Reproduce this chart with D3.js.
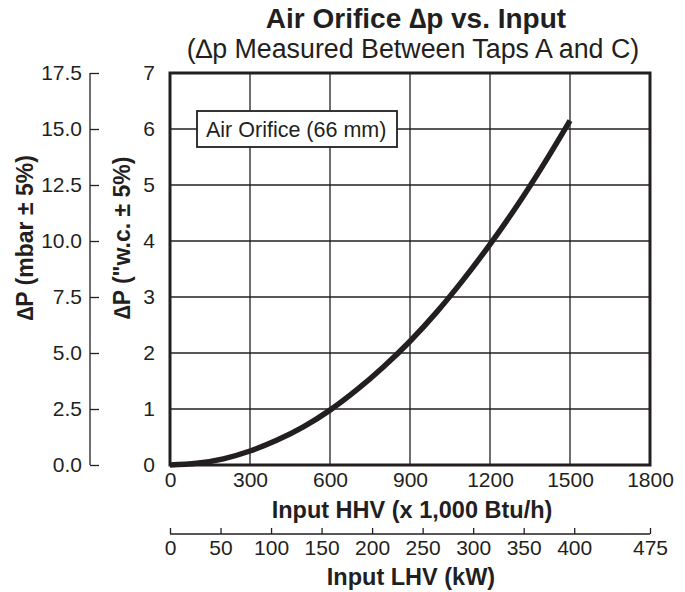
<!DOCTYPE html>
<html>
<head>
<meta charset="utf-8">
<script src="https://cdn.jsdelivr.net/npm/d3@7/dist/d3.min.js"></script>
<style>
  html, body { margin: 0; padding: 0; background: #fff; }
  svg { display: block; font-family: "Liberation Sans", Arial, Helvetica, sans-serif; }
</style>
</head>
<body>
<svg id="chart" width="685" height="592"></svg>
<script>
// ---- data ----
const inputHHV = [0, 100, 200, 300, 400, 500, 600, 700, 800, 900, 1000, 1100, 1200, 1300, 1400, 1500];
const deltaPwc = [0, 0.03, 0.11, 0.25, 0.44, 0.68, 0.98, 1.34, 1.75, 2.21, 2.73, 3.31, 3.94, 4.62, 5.36, 6.15];
const hhvTicks = [0, 300, 600, 900, 1200, 1500, 1800];
const lhvTicks = [0, 50, 100, 150, 200, 250, 300, 350, 400, 475];
const wcTicks = [0, 1, 2, 3, 4, 5, 6, 7];
const mbarTicks = [0, 2.5, 5, 7.5, 10, 12.5, 15, 17.5];
const seriesName = "Air Orifice (66 mm)";
const titleText = "Air Orifice \u2206p vs. Input";
const subtitleText = "(\u2206p Measured Between Taps A and C)";

// ---- layout ----
const svg = d3.select("#chart");
const L = 170, R = 650, T = 73, B = 465;
const ink = "#231f20";
const tickFs = 21;

const x = d3.scaleLinear().domain([0, 1800]).range([L, R]);
const xL = d3.scaleLinear().domain([0, 475]).range([L, R]);
const y = d3.scaleLinear().domain([0, 7]).range([B, T]);
const yM = d3.scaleLinear().domain([0, 17.5]).range([B, T]);

// grid
const grid = svg.append("g");
grid.selectAll("line.v").data(hhvTicks.slice(1, -1)).enter().append("line")
  .attr("x1", d => x(d)).attr("x2", d => x(d)).attr("y1", T).attr("y2", B)
  .attr("stroke", ink).attr("stroke-width", 1.3);
grid.selectAll("line.h").data(wcTicks.slice(1, -1)).enter().append("line")
  .attr("y1", d => y(d)).attr("y2", d => y(d)).attr("x1", L).attr("x2", R)
  .attr("stroke", ink).attr("stroke-width", 1.3);

// frame
svg.append("rect").attr("x", L).attr("y", T).attr("width", R - L).attr("height", B - T)
  .attr("fill", "none").attr("stroke", ink).attr("stroke-width", 3);

// curve
const line = d3.line().x((d, i) => x(inputHHV[i])).y(d => y(d)).curve(d3.curveMonotoneX);
svg.append("path").datum(deltaPwc).attr("d", line)
  .attr("fill", "none").attr("stroke", ink).attr("stroke-width", 5.5);

// legend box
const lg = svg.append("g");
lg.append("rect").attr("x", 197).attr("y", y(6) - 18).attr("width", 200).attr("height", 36)
  .attr("fill", "#fff").attr("stroke", ink).attr("stroke-width", 1.8);
lg.append("text").attr("x", 206).attr("y", y(6) + 7.5).attr("text-anchor", "start")
  .attr("font-size", 21.5).attr("fill", ink).text(seriesName);

// x axis (HHV) labels
const xAxis = d3.axisBottom(x).tickValues(hhvTicks).tickSize(0).tickPadding(7).tickFormat(d3.format("d"));
const gx = svg.append("g").attr("transform", `translate(0,${B})`).call(xAxis);
gx.select(".domain").remove();
gx.selectAll("text").attr("font-size", tickFs).attr("fill", ink).attr("font-family", null);

svg.append("text").attr("x", (L + R) / 2 + 2).attr("y", 518).attr("text-anchor", "middle")
  .attr("font-size", 23.5).attr("font-weight", "bold").attr("fill", ink).text("Input HHV (x 1,000 Btu/h)");

// LHV axis
const lAxis = d3.axisBottom(xL).tickValues(lhvTicks).tickSize(0).tickPadding(6).tickFormat(d3.format("d"));
const gl = svg.append("g").attr("transform", `translate(0,534)`).call(lAxis);
gl.select(".domain").attr("stroke", ink).attr("stroke-width", 1.3).attr("d", `M${L},0H${R}`);
gl.selectAll(".tick").append("line").attr("y1", 0).attr("y2", -6).attr("stroke", ink).attr("stroke-width", 1.3);
gl.selectAll("text").attr("font-size", tickFs).attr("fill", ink).attr("font-family", null);

svg.append("text").attr("x", (L + R) / 2 + 1).attr("y", 585).attr("text-anchor", "middle")
  .attr("font-size", 23.5).attr("font-weight", "bold").attr("fill", ink).text("Input LHV (kW)");

// inner y axis ("w.c.)
const yAxis = d3.axisLeft(y).tickValues(wcTicks).tickSize(0).tickPadding(15).tickFormat(d3.format("d"));
const gy = svg.append("g").attr("transform", `translate(${L},0)`).call(yAxis);
gy.select(".domain").remove();
gy.selectAll("text").attr("font-size", tickFs).attr("fill", ink).attr("font-family", null);

// outer y axis (mbar)
const mAxis = d3.axisRight(yM).tickValues(mbarTicks).tickSize(9).tickPadding(0).tickFormat(d3.format(".1f"));
const gm = svg.append("g").attr("transform", `translate(90,0)`).call(mAxis);
gm.select(".domain").attr("stroke", ink).attr("stroke-width", 1.3).attr("d", `M0,${T}V${B}`);
gm.selectAll(".tick line").attr("stroke", ink).attr("stroke-width", 1.3);
gm.selectAll("text").attr("font-size", tickFs).attr("fill", ink).attr("font-family", null)
  .attr("text-anchor", "end").attr("x", -8);

// y titles
svg.append("text").attr("transform", "translate(33,238) rotate(-90)").attr("text-anchor", "middle")
  .attr("font-size", 23).attr("font-weight", "bold").attr("fill", ink).text("\u2206P (mbar \u00b1 5%)");
svg.append("text").attr("transform", "translate(130,238) rotate(-90)").attr("text-anchor", "middle")
  .attr("font-size", 23).attr("font-weight", "bold").attr("fill", ink).text("\u2206P (\"w.c. \u00b1 5%)");

// titles
svg.append("text").attr("x", 416).attr("y", 28).attr("text-anchor", "middle")
  .attr("font-size", 28).attr("font-weight", "bold").attr("fill", ink).text(titleText);
svg.append("text").attr("x", 413).attr("y", 58).attr("text-anchor", "middle")
  .attr("font-size", 26.8).attr("fill", ink).text(subtitleText);
</script>
</body>
</html>
